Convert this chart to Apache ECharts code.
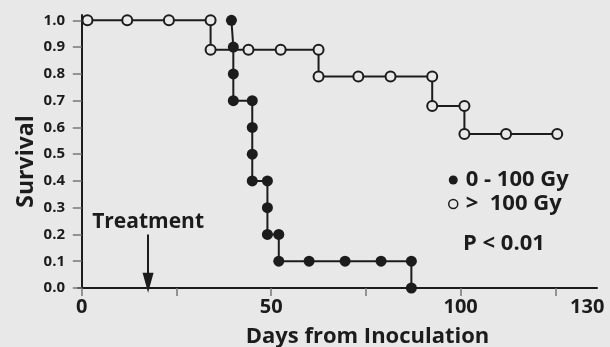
<!DOCTYPE html>
<html>
<head>
<meta charset="utf-8">
<script src="https://cdn.jsdelivr.net/npm/echarts@6/dist/echarts.min.js"></script>
<style>
  html, body { margin: 0; padding: 0; background: #e7e8e7; }
  #chart { width: 610px; height: 347px; }
</style>
</head>
<body>
<div id="chart"></div>
<script>
// Kaplan–Meier survival, grouped by absorbed dose
const lowDoseDays = [39.5, 40, 40, 40, 45, 45, 45, 45, 49, 49, 49, 52, 52, 60, 69.5, 79, 87, 87];
const lowDoseSurv = [1.0, 0.9, 0.8, 0.7, 0.7, 0.6, 0.5, 0.4, 0.4, 0.3, 0.2, 0.2, 0.1, 0.1, 0.1, 0.1, 0.1, 0.0];

const highDoseDays = [1.5, 12, 23, 34, 34, 44, 52.5, 62.5, 62.5, 73, 81.5, 92.5, 92.5, 101, 101, 112, 125.5];
const highDoseSurv = [1.0, 1.0, 1.0, 1.0, 0.89, 0.89, 0.89, 0.89, 0.79, 0.79, 0.79, 0.79, 0.68, 0.68, 0.575, 0.575, 0.575];

const seriesNames = ['0 - 100 Gy', '>  100 Gy'];
const xTicks = [0, 25, 50, 75, 100, 125];
const xTickLabels = [0, 50, 100, 130];
const yTicks = [0, 0.1, 0.2, 0.3, 0.4, 0.5, 0.6, 0.7, 0.8, 0.9, 1.0];
const treatmentDay = 17.5;

const INK = '#1c1c1c';
const BG = '#e7e8e7';
const FONT = '"Open Sans", "Noto Sans", sans-serif';

const zip = (xs, ys) => xs.map((x, i) => [x, ys[i]]);

const chart = echarts.init(document.getElementById('chart'));
chart.setOption({
  backgroundColor: BG,
  animation: false,
  textStyle: { fontFamily: FONT, fontWeight: 'bold', color: INK },
  grid: { left: 78, right: 13, top: 15, bottom: 59, containLabel: false, outerBoundsMode: 'none' },
  xAxis: {
    type: 'value',
    min: -1,
    max: 136,
    name: 'Days from Inoculation',
    nameLocation: 'middle',
    nameGap: 38,
    nameMoveOverlap: false,
    nameTextStyle: { fontSize: 22, fontWeight: 'bold', color: INK, fontFamily: FONT, padding: [0, 0, 0, 60] },
    axisLine: { lineStyle: { color: INK, width: 2 } },
    axisTick: { show: true, length: 8, customValues: xTicks, lineStyle: { color: '#777', width: 1.5 } },
    axisLabel: {
      customValues: xTickLabels,
      fontSize: 20, fontWeight: 'bold', color: INK, fontFamily: FONT, margin: 9,
      formatter: v => v === 130 ? '{end|130}' : String(v),
      rich: { end: { fontSize: 20, fontWeight: 'bold', color: INK, fontFamily: FONT, padding: [0, 0, 0, 26] } }
    },
    splitLine: { show: false }
  },
  yAxis: {
    type: 'value',
    min: 0,
    max: 1.02,
    name: 'Survival',
    nameLocation: 'middle',
    nameGap: 40,
    nameMoveOverlap: false,
    nameTextStyle: { fontSize: 23, fontWeight: 'bold', color: INK, fontFamily: FONT, padding: [0, 20, 0, 0] },
    axisLine: { show: true, lineStyle: { color: INK, width: 2 } },
    axisTick: { show: true, length: 9, customValues: yTicks, lineStyle: { color: '#777', width: 1.5 } },
    axisLabel: {
      customValues: yTicks,
      fontSize: 15, fontWeight: 'bold', color: INK, fontFamily: FONT, margin: 13,
      formatter: v => v.toFixed(1)
    },
    splitLine: { show: false }
  },
  legend: {
    orient: 'vertical',
    left: 443,
    top: 164,
    itemWidth: 9,
    itemHeight: 9,
    itemGap: 2,
    textStyle: { fontSize: 22, fontWeight: 'bold', color: INK, fontFamily: FONT, padding: [0, 0, 0, 3] },
    data: [
      { name: seriesNames[0], icon: 'circle', itemStyle: { color: INK, borderWidth: 0 } },
      { name: seriesNames[1], icon: 'circle', itemStyle: { color: BG, borderColor: INK, borderWidth: 1.5 } }
    ]
  },
  graphic: [
    {
      type: 'text', left: 463, top: 233,
      style: { text: 'P < 0.01', font: 'bold 22px ' + FONT, fill: INK }
    }
  ],
  series: [
    {
      name: seriesNames[1],
      type: 'line',
      data: zip(highDoseDays, highDoseSurv),
      symbol: 'circle',
      symbolSize: 10,
      showAllSymbol: true,
      lineStyle: { color: INK, width: 2 },
      itemStyle: { color: BG, borderColor: INK, borderWidth: 2 },
      z: 2,
      markLine: {
        silent: true,
        symbol: ['none', 'triangle'],
        symbolSize: [11, 20],
        lineStyle: { color: INK, width: 2, type: 'solid' },
        label: { show: false },
        data: [[
          { coord: [treatmentDay, 0.2] },
          { coord: [treatmentDay, 0.02] }
        ]]
      },
      markPoint: {
        silent: true,
        symbol: 'circle',
        symbolSize: 0,
        label: {
          show: true, position: 'inside', formatter: 'Treatment',
          fontSize: 21, fontWeight: 'bold', color: INK, fontFamily: FONT
        },
        data: [{ coord: [treatmentDay, 0.245] }]
      }
    },
    {
      name: seriesNames[0],
      type: 'line',
      data: zip(lowDoseDays, lowDoseSurv),
      symbol: 'circle',
      symbolSize: 11,
      showAllSymbol: true,
      lineStyle: { color: INK, width: 2 },
      itemStyle: { color: INK },
      z: 3
    }
  ]
});
</script>
</body>
</html>
